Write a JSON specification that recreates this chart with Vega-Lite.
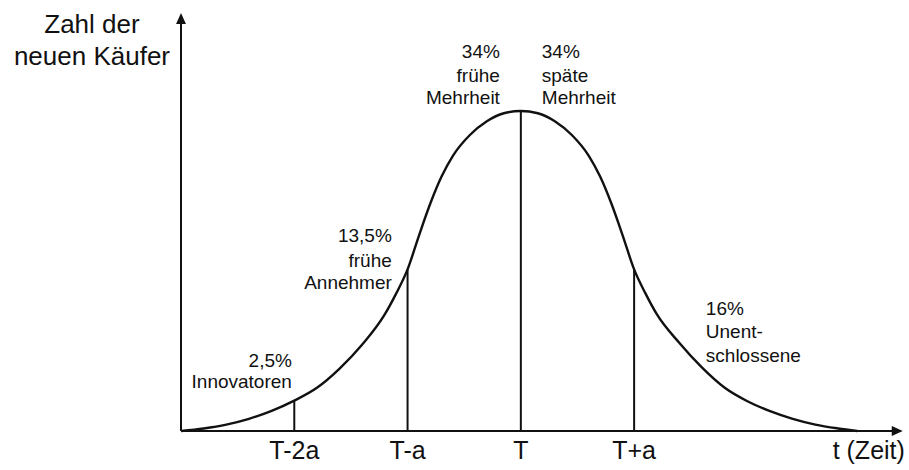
{
  "$schema": "https://vega.github.io/schema/vega-lite/v6.json",
  "width": 725,
  "height": 416,
  "autosize": {"type": "none"},
  "padding": {"left": 181, "top": 15, "right": 3, "bottom": 39},
  "background": "white",
  "view": {"stroke": null},
  "config": {"font": "Liberation Sans"},
  "datasets": {
    "curve": [
      {"t": -3.0, "h": 0},
      {"t": -2.8, "h": 0.8},
      {"t": -2.6, "h": 2},
      {"t": -2.4, "h": 3.8},
      {"t": -2.2, "h": 6.3},
      {"t": -2.0, "h": 9.5},
      {"t": -1.8, "h": 13.5},
      {"t": -1.6, "h": 19.5},
      {"t": -1.4, "h": 27},
      {"t": -1.2, "h": 36.5},
      {"t": -1.1, "h": 43},
      {"t": -1.0, "h": 50.5},
      {"t": -0.9, "h": 61},
      {"t": -0.8, "h": 71},
      {"t": -0.7, "h": 79.5},
      {"t": -0.6, "h": 86},
      {"t": -0.45, "h": 92.5},
      {"t": -0.3, "h": 96.8},
      {"t": -0.15, "h": 99.3},
      {"t": 0, "h": 100},
      {"t": 0.15, "h": 99.3},
      {"t": 0.3, "h": 96.8},
      {"t": 0.45, "h": 92.5},
      {"t": 0.6, "h": 86},
      {"t": 0.7, "h": 79.5},
      {"t": 0.8, "h": 71},
      {"t": 0.9, "h": 61},
      {"t": 1.0, "h": 50.5},
      {"t": 1.1, "h": 43},
      {"t": 1.2, "h": 36.5},
      {"t": 1.4, "h": 27.5},
      {"t": 1.6, "h": 19.8},
      {"t": 1.8, "h": 13.5},
      {"t": 2.0, "h": 9.3},
      {"t": 2.2, "h": 6.2},
      {"t": 2.4, "h": 3.8},
      {"t": 2.6, "h": 2},
      {"t": 2.8, "h": 0.8},
      {"t": 2.97, "h": 0}
    ],
    "rules": [
      {"t": -3, "h": 0, "t2": -3, "h2": 127.3},
      {"t": -3, "h": 0, "t2": 3.28, "h2": 0},
      {"t": -2, "h": 0, "t2": -2, "h2": 9.5},
      {"t": -1, "h": 0, "t2": -1, "h2": 50.5},
      {"t": 0, "h": 0, "t2": 0, "h2": 100},
      {"t": 1, "h": 0, "t2": 1, "h2": 50.5}
    ],
    "arrowUp": [{"t": -3, "h": 128.9}],
    "arrowRight": [{"t": 3.323, "h": 0}],
    "titleText": [
      {"t": -3.786, "h": 124.4, "text": "Zahl der"},
      {"t": -3.786, "h": 114.4, "text": "neuen Käufer"}
    ],
    "rightText": [
      {"t": -0.185, "h": 116.6, "text": "34%"},
      {"t": -0.185, "h": 109.1, "text": "frühe"},
      {"t": -0.185, "h": 102.2, "text": "Mehrheit"},
      {"t": -1.139, "h": 59.1, "text": "13,5%"},
      {"t": -1.139, "h": 51.25, "text": "frühe"},
      {"t": -1.139, "h": 44.4, "text": "Annehmer"},
      {"t": -2.021, "h": 20, "text": "2,5%"},
      {"t": -2.021, "h": 13.4, "text": "Innovatoren"}
    ],
    "leftText": [
      {"t": 0.185, "h": 116.6, "text": "34%"},
      {"t": 0.185, "h": 109.1, "text": "späte"},
      {"t": 0.185, "h": 102.2, "text": "Mehrheit"},
      {"t": 1.633, "h": 36.25, "text": "16%"},
      {"t": 1.633, "h": 29.1, "text": "Unent-"},
      {"t": 1.633, "h": 21.6, "text": "schlossene"}
    ],
    "ticks": [
      {"t": -2, "h": -8.8, "text": "T-2a"},
      {"t": -1, "h": -8.8, "text": "T-a"},
      {"t": 0, "h": -8.8, "text": "T"},
      {"t": 1, "h": -8.8, "text": "T+a"}
    ],
    "xTitle": [{"t": 3.39, "h": -8.8, "text": "t (Zeit)"}]
  },
  "encoding": {
    "x": {"field": "t", "type": "quantitative", "axis": null, "scale": {"domain": [-3, 3.4], "nice": false, "zero": false}},
    "y": {"field": "h", "type": "quantitative", "axis": null, "scale": {"domain": [0, 130], "nice": false, "zero": false}}
  },
  "layer": [
    {
      "data": {"name": "curve"},
      "mark": {"type": "line", "interpolate": "monotone", "color": "#111111", "strokeWidth": 2.4},
      "encoding": {}
    },
    {
      "data": {"name": "rules"},
      "mark": {"type": "rule", "color": "#111111", "strokeWidth": 2},
      "encoding": {
        "x2": {"field": "t2"},
        "y2": {"field": "h2"}
      }
    },
    {
      "data": {"name": "arrowUp"},
      "mark": {"type": "point", "shape": "M0,-1L0.9,1L-0.9,1Z", "size": 121, "filled": true, "opacity": 1, "color": "#111111"},
      "encoding": {}
    },
    {
      "data": {"name": "arrowRight"},
      "mark": {"type": "point", "shape": "M1,0L-1,-0.9L-1,0.9Z", "size": 121, "filled": true, "opacity": 1, "color": "#111111"},
      "encoding": {}
    },
    {
      "data": {"name": "titleText"},
      "mark": {"type": "text", "align": "center", "baseline": "alphabetic", "fontSize": 26, "color": "#111111"},
      "encoding": {"text": {"field": "text"}}
    },
    {
      "data": {"name": "rightText"},
      "mark": {"type": "text", "align": "right", "baseline": "alphabetic", "fontSize": 19, "color": "#111111"},
      "encoding": {"text": {"field": "text"}}
    },
    {
      "data": {"name": "leftText"},
      "mark": {"type": "text", "align": "left", "baseline": "alphabetic", "fontSize": 19, "color": "#111111"},
      "encoding": {"text": {"field": "text"}}
    },
    {
      "data": {"name": "ticks"},
      "mark": {"type": "text", "align": "center", "baseline": "alphabetic", "fontSize": 25, "color": "#111111"},
      "encoding": {"text": {"field": "text"}}
    },
    {
      "data": {"name": "xTitle"},
      "mark": {"type": "text", "align": "right", "baseline": "alphabetic", "fontSize": 25, "color": "#111111"},
      "encoding": {"text": {"field": "text"}}
    }
  ]
}
